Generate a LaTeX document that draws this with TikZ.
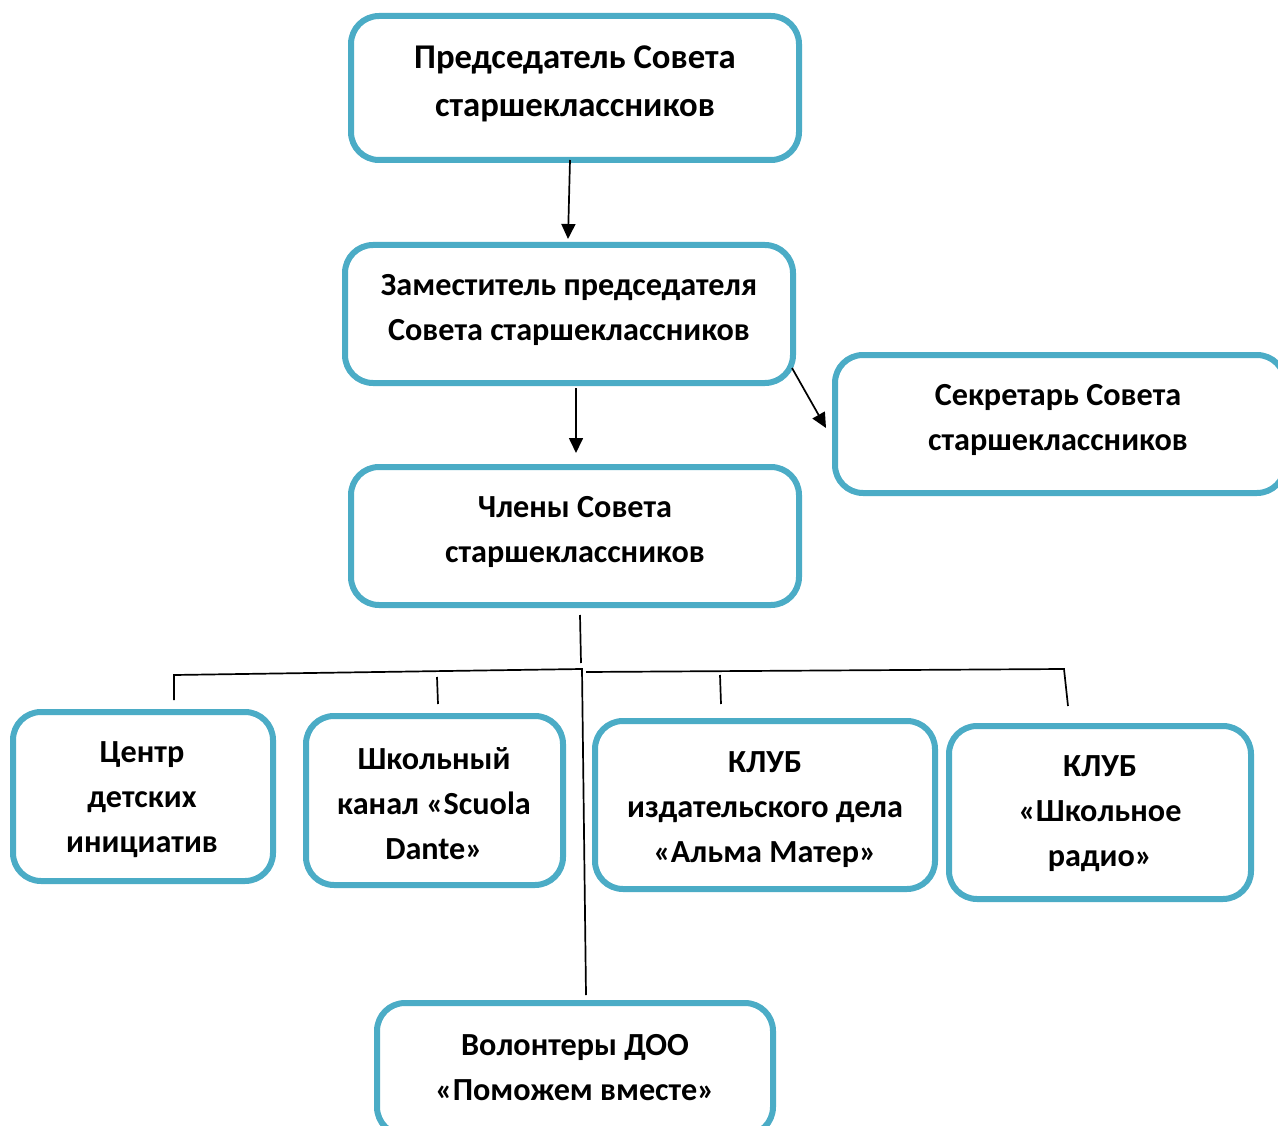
\documentclass[tikz,border=0pt]{standalone}
\usepackage{fontspec}
\setmainfont{Carlito}
\usetikzlibrary{arrows.meta,calc}
\definecolor{boxblue}{HTML}{4BACC6}
\begin{document}
\begin{tikzpicture}[x=1pt,y=-1pt,
  box/.style={draw=boxblue,line width=6pt,rounded corners=28pt,fill=white,inner sep=0pt},
  lbl/.style={align=center,font=\fontsize{32.2}{45}\selectfont\bfseries,inner sep=0pt},
  conn/.style={draw=black,line width=1.7pt},
  arr/.style={conn,-{Triangle[length=15pt,width=14pt]}}]
\useasboundingbox (0,0) rectangle (1278,1126);
\clip (0,0) rectangle (1278,1126);
\fill[white] (0,0) rectangle (1278,1126);
% boxes
\node[box,minimum width=448pt,minimum height=144pt] (b1) at (575,88) {};
\node[box,minimum width=448pt,minimum height=138pt] (b2) at (569,314) {};
\node[box,minimum width=450pt,minimum height=138pt] (b3) at (1060,424) {};
\node[box,minimum width=448pt,minimum height=138pt] (b4) at (575,536) {};
\node[box,minimum width=260pt,minimum height=169pt] (b5) at (143,796.5) {};
\node[box,minimum width=257pt,minimum height=169pt] (b6) at (434.5,800.5) {};
\node[box,minimum width=340pt,minimum height=168pt] (b7) at (765,805) {};
\node[box,minimum width=302pt,minimum height=173pt] (b8) at (1100,812.5) {};
\node[box,minimum width=396pt,minimum height=132pt] (b9) at (575,1069) {};
% labels
\node[lbl,font=\fontsize{34.7}{48}\selectfont\bfseries] (t1) at (575,83.5) {Председатель Совета\\старшеклассников};
\node[lbl] (t2) at (569,309.5) {Заместитель председателя\\Совета старшеклассников};
\node[lbl] (t3) at (1058,419.5) {Секретарь Совета\\старшеклассников};
\node[lbl] (t4) at (575,532) {Члены Совета\\старшеклассников};
\node[lbl] (t5) at (142,800) {Центр\\детских\\инициатив};
\node[lbl] (t6) at (434,804) {Школьный\\канал «Scuola\\Dante»};
\node[lbl] (t7) at (765,810) {КЛУБ\\издательского дела\\«Альма Матер»};
\node[lbl] (t8) at (1100,814) {КЛУБ\\«Школьное\\радио»};
\node[lbl] (t9) at (575,1067.5) {Волонтеры ДОО\\«Поможем вместе»};
% arrows
\draw[arr] ($(b1.south)+(-5,-3)$) -- ($(b2.north)+(-1,-3)$);
\draw[arr] ($(b2.south)+(7,2)$) -- ($(b4.north)+(1,-11)$);
\draw[arr] ($(b2.south east)+(-4,-18)$) -- ($(b3.west)+(-6,4)$);
% tree
\coordinate (j0) at (580,615);
\coordinate (j1) at (581,663);
\coordinate (jl) at (582,669);
\coordinate (jr) at (586,672);
\coordinate (l5) at (174,675);
\coordinate (l5e) at (174,700);
\coordinate (l6) at (437,677);
\coordinate (l6e) at (438,704);
\coordinate (l7) at (720,675);
\coordinate (l7e) at (721,704);
\coordinate (l8) at (1064,669);
\coordinate (l8e) at (1068,706);
\coordinate (l9e) at (586,995);
\draw[conn] (j0) -- (j1);
\draw[conn] (l5e) -- (l5) -- (jl) -- (l9e);
\draw[conn] (jr) -- (l8) -- (l8e);
\draw[conn] (l6) -- (l6e);
\draw[conn] (l7) -- (l7e);
\end{tikzpicture}
\end{document}
